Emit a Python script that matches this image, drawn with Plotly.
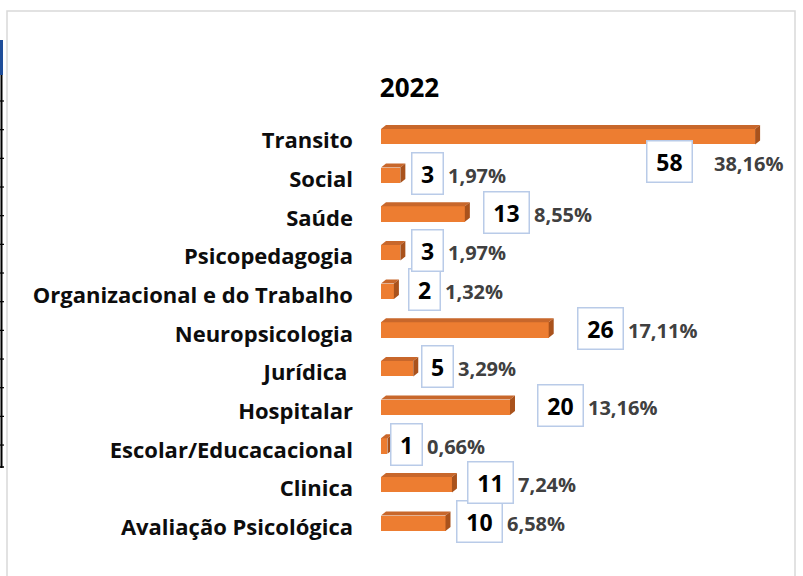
import plotly.graph_objects as go

# ---------------- data ----------------
categories = ["Avaliação Psicológica", "Clinica", "Escolar/Educacacional", "Hospitalar",
              "Jurídica\u00a0", "Neuropsicologia", "Organizacional e do Trabalho",
              "Psicopedagogia", "Saúde", "Social", "Transito"]
counts = [10, 11, 1, 20, 5, 26, 2, 3, 13, 3, 58]
percent_labels = ["6,58%", "7,24%", "0,66%", "13,16%", "3,29%", "17,11%", "1,32%",
                  "1,97%", "8,55%", "1,97%", "38,16%"]
title_text = "2022"

# ---------------- styling / layout ----------------
W, H = 803, 576
ML, MR, MT, MB = 381, 8, 98, 14
PW, PH = W - ML - MR, H - MT - MB
PX_PER_UNIT = 6.45
XMAX = PW / PX_PER_UNIT
YMIN, YMAX = -1, 11
PX_PER_CAT = PH / (YMAX - YMIN)

FRONT = "#ED7D31"
TOP = "#C8672B"
SIDE = "#A9521C"
FONT = "Open Sans"
BAR_W = 0.40
DX = 5 / PX_PER_UNIT
DY = 4 / PX_PER_CAT

# label placement (pixel nudges relative to the bar end, like manual Excel label drags)
label_nudge = [10, 15, 3, 27, 8, 28, 14, 11, 18, 11, -109]
label_lift = [0] * 10 + [-27]
pct_gap = [5] * 10 + [22]

ypos = list(range(len(categories)))

fig = go.Figure()

# front faces
fig.add_trace(go.Bar(x=counts, y=ypos, orientation="h", width=BAR_W,
                     marker=dict(color=FRONT, line=dict(width=0)),
                     hoverinfo="skip", showlegend=False))

# top and side faces of the 3D bars (derived from the data values)
tx, ty, sx, sy = [], [], [], []
for v, yc in zip(counts, ypos):
    t = yc + BAR_W / 2
    b = yc - BAR_W / 2
    tx += [0, v, v + DX, DX, 0, None]
    ty += [t, t, t + DY, t + DY, t, None]
    sx += [v, v, v + DX, v + DX, v, None]
    sy += [b, t, t + DY, b + DY, b, None]
fig.add_trace(go.Scatter(x=tx, y=ty, mode="lines", fill="toself", fillcolor=TOP,
                         line=dict(width=0, color=TOP), hoverinfo="skip", showlegend=False))
fig.add_trace(go.Scatter(x=sx, y=sy, mode="lines", fill="toself", fillcolor=SIDE,
                         line=dict(width=0, color=SIDE), hoverinfo="skip", showlegend=False))

# value boxes and percentage labels
for v, yc, pct, nud, lift, gap in zip(counts, ypos, percent_labels, label_nudge, label_lift, pct_gap):
    digits = len(str(v))
    bw = 26 if digits == 1 else 40
    fig.add_annotation(x=v, y=yc, xref="x", yref="y", text=str(v), showarrow=False,
                       xanchor="left", yanchor="middle", xshift=nud, yshift=lift + 2,
                       width=bw, height=36, align="center", valign="middle",
                       bordercolor="#B9CBE8", borderwidth=1.5, borderpad=2, bgcolor="white",
                       font=dict(family=FONT, size=23, color="#000000", weight="bold"))
    fig.add_annotation(x=v, y=yc, xref="x", yref="y", text=pct, showarrow=False,
                       xanchor="left", yanchor="middle",
                       xshift=nud + bw + 4 + gap, yshift=lift,
                       font=dict(family=FONT, size=20, color="#404040", weight="bold"))


def px_x(p):
    return (p - ML) / PW


def px_y(p):
    return 1 - (p - MT) / PH


shapes = []
# outer chart frame
shapes.append(dict(type="rect", xref="paper", yref="paper",
                   x0=px_x(7), x1=px_x(795), y0=px_y(590), y1=px_y(11),
                   line=dict(color="#D9D9D9", width=1.5), layer="below"))
# spreadsheet edge artefact on the left
shapes.append(dict(type="line", xref="paper", yref="paper",
                   x0=px_x(1.5), x1=px_x(1.5), y0=px_y(40), y1=px_y(468),
                   line=dict(color="#000000", width=2)))
shapes.append(dict(type="rect", xref="paper", yref="paper",
                   x0=px_x(0), x1=px_x(3), y0=px_y(75), y1=px_y(40),
                   fillcolor="#1F4E9A", line=dict(width=0)))
for k in range(13):
    yy = 101 + k * 28.67
    shapes.append(dict(type="line", xref="paper", yref="paper",
                       x0=px_x(0), x1=px_x(4), y0=px_y(yy), y1=px_y(yy),
                       line=dict(color="#000000", width=1.2)))
shapes.append(dict(type="line", xref="paper", yref="paper",
                   x0=px_x(0), x1=px_x(4), y0=px_y(467), y1=px_y(467),
                   line=dict(color="#000000", width=1.5)))

fig.update_layout(
    width=W, height=H,
    margin=dict(l=ML, r=MR, t=MT, b=MB, pad=0),
    paper_bgcolor="white", plot_bgcolor="white",
    title=dict(text=title_text, x=409.5 / W, xref="container", xanchor="center",
               y=1 - 87.5 / H, yref="container", yanchor="middle",
               font=dict(family=FONT, size=26, color="#000000", weight="bold")),
    xaxis=dict(range=[0, XMAX], visible=False, fixedrange=True),
    yaxis=dict(range=[YMIN, YMAX], tickvals=ypos, ticktext=categories,
               showgrid=False, zeroline=False, showline=False, ticks="",
               ticklabelstandoff=27, ticklabelshift=4, fixedrange=True,
               tickfont=dict(family=FONT, size=22, color="#0D0D0D", weight="bold")),
    shapes=shapes,
    showlegend=False,
    bargap=0,
)

fig.write_html("out.html", config={"displayModeBar": False},
               post_script="document.body.style.margin='0';document.body.style.overflow='hidden';")
